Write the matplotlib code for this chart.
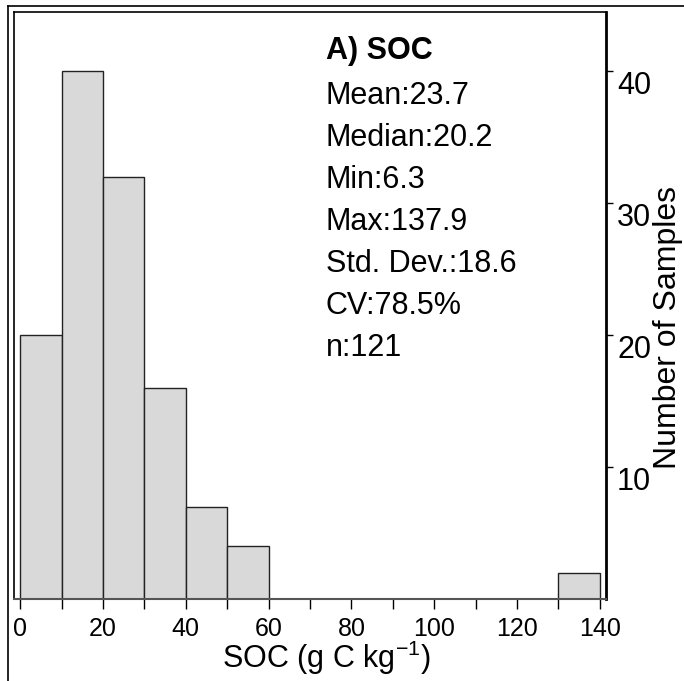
import numpy as np
import matplotlib
matplotlib.use('Agg')
import matplotlib.pyplot as plt
from matplotlib.lines import Line2D

plt.rcParams['font.family'] = ['Liberation Sans', 'DejaVu Sans']
plt.rcParams['mathtext.fontset'] = 'custom'
plt.rcParams['mathtext.rm'] = 'Liberation Sans'
plt.rcParams['mathtext.default'] = 'regular'

# histogram data (bin width 10 g C/kg)
bin_edges = np.arange(0, 150, 10)
counts = [20, 40, 32, 16, 7, 4, 0, 0, 0, 0, 0, 0, 0, 2]

stats_title = 'A) SOC'
stats_lines = ['Mean:23.7', 'Median:20.2', 'Min:6.3', 'Max:137.9',
               'Std. Dev.:18.6', 'CV:78.5%', 'n:121']

x_ticks = np.arange(0, 150, 10)
x_labels = ['0', '', '20', '', '40', '', '60', '', '80', '', '100', '', '120', '', '140']
y_ticks = [10, 20, 30, 40]

fig = plt.figure(figsize=(6.84, 6.81), dpi=100)
ax = fig.add_axes([14/684, 82/681, 592/684, 587/681])

# bars (skip empty bins)
for left, c in zip(bin_edges[:-1], counts):
    if c > 0:
        ax.bar(left, c, width=10, align='edge', color='#d9d9d9',
               edgecolor='#222222', linewidth=1.0)

ax.set_xlim(-1.5, 141.5)
ax.set_ylim(0, 44.5)

ax.set_xticks(x_ticks)
ax.set_xticklabels(x_labels, fontsize=18)
ax.tick_params(axis='x', direction='out', length=7, width=1, pad=6)

ax.yaxis.tick_right()
ax.yaxis.set_label_position('right')
ax.set_yticks(y_ticks)
ax.set_yticklabels([str(t) for t in y_ticks], fontsize=22, va='top')
ax.tick_params(axis='y', direction='out', length=5, width=1, pad=3)

ax.set_xlabel('SOC (g C kg$^{-1}$)', fontsize=22)
ax.xaxis.set_label_coords(0.527, -0.068)
ax.set_ylabel('Number of Samples', fontsize=23)
ax.yaxis.set_label_coords(1.08, 0.463)

for s in ['left', 'top']:
    ax.spines[s].set_linewidth(1.2)
ax.spines['right'].set_linewidth(2.0)
ax.spines['bottom'].set_linewidth(1.5)
ax.spines['bottom'].set_color('#555555')

# stats block
ax.text(0.527, (599 - 59) / 587, stats_title, transform=ax.transAxes,
        fontsize=22, fontweight='bold', va='baseline', ha='left')
for i, line in enumerate(stats_lines):
    yb = 104 + i * 42
    ax.text(0.527, (599 - yb) / 587, line, transform=ax.transAxes,
            fontsize=22, va='baseline', ha='left')

# outer frame lines (left and top)
fig.add_artist(Line2D([8/684, 8/684], [0, 1 - 6/681], color='black', lw=1.2))
fig.add_artist(Line2D([8/684, 1], [1 - 6/681, 1 - 6/681], color='black', lw=1.2))

fig.savefig('out.png', dpi=100)
